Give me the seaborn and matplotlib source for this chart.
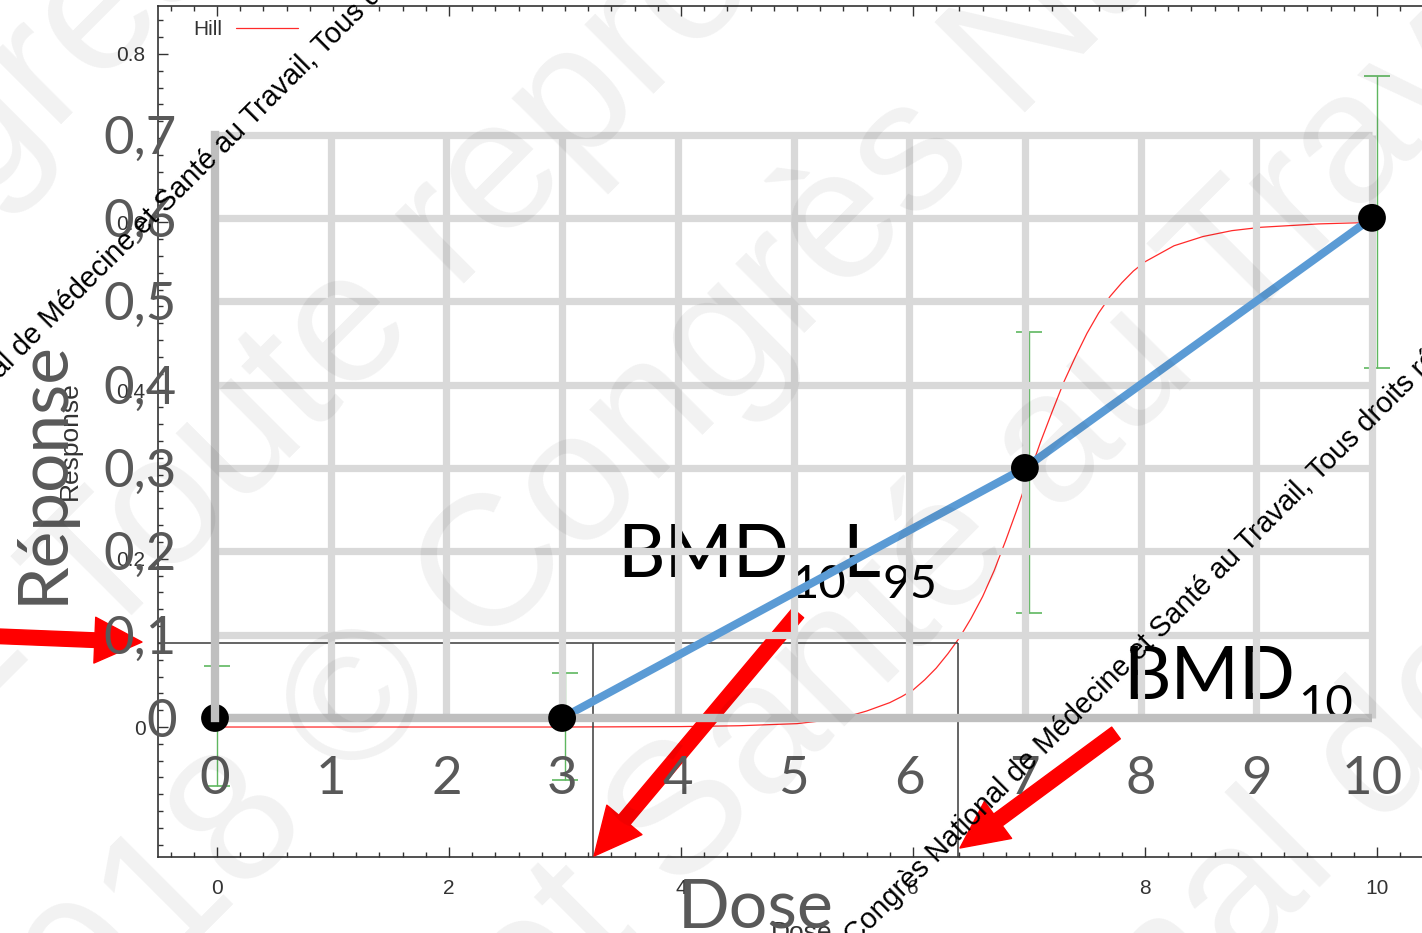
import matplotlib
matplotlib.use("Agg")
import matplotlib.pyplot as plt
import numpy as np
import seaborn as sns
from matplotlib.ticker import MultipleLocator

# fitted Hill curve of the underlying software plot
hill_dose = [0, 1, 2, 3, 4, 4.5, 5, 5.25, 5.5, 5.6, 5.7, 5.8, 5.9, 6, 6.1, 6.2, 6.3, 6.4,
             6.5, 6.6, 6.7, 6.8, 6.9, 7, 7.1, 7.2, 7.3, 7.4, 7.5, 7.6, 7.7, 7.8, 7.9, 8,
             8.25, 8.5, 8.75, 9, 9.5, 10]
hill_resp = [0, 0, 0, 0, 0.0005, 0.0015, 0.004, 0.008, 0.015, 0.019, 0.024, 0.029, 0.036,
             0.044, 0.056, 0.07, 0.087, 0.106, 0.129, 0.155, 0.186, 0.222, 0.26, 0.30,
             0.339, 0.375, 0.41, 0.44, 0.468, 0.492, 0.512, 0.528, 0.542, 0.553, 0.572,
             0.583, 0.59, 0.594, 0.598, 0.60]

# observed groups
obs_dose = [0, 3, 7, 10]
obs_resp = [0, 0, 0.3, 0.6]
err_low = [-0.070, -0.063, 0.135, 0.427]
err_high = [0.073, 0.064, 0.469, 0.774]

# benchmark dose results
bmr = 0.1
bmd = 6.39
bmdl = 3.24

bg_xticks = [0, 2, 4, 6, 8, 10]
bg_yticks = [0, 0.2, 0.4, 0.6, 0.8]
bg_ylabels = ["0", "0.2", "0.4", "0.6", "0.8"]

ov_xticks = [0, 1, 2, 3, 4, 5, 6, 7, 8, 9, 10]
ov_yticks = [0, 0.1, 0.2, 0.3, 0.4, 0.5, 0.6, 0.7]
ov_ylabels = ["0", "0,1", "0,2", "0,3", "0,4", "0,5", "0,6", "0,7"]

W, H = 1422, 933


def box(left, top, right, bottom):
    return [left / W, 1 - bottom / H, (right - left) / W, (bottom - top) / H]


def subscripted(ax, x, y, parts, size, sub_size, drop, clip=False):
    # parts alternate: normal, subscript, normal, subscript ...
    prev = ax.text(x, y, parts[0], fontsize=size, color="black", ha="left",
                   va="baseline", zorder=0.5, clip_on=clip)
    for i, part in enumerate(parts[1:]):
        is_sub = i % 2 == 0
        prev = ax.annotate(part, xy=(1, y), xycoords=(prev, "data"),
                           xytext=(2 if is_sub else -3, -drop if is_sub else 0),
                           textcoords="offset points", fontsize=sub_size if is_sub else size,
                           color="black", ha="left", va="baseline", zorder=0.5,
                           clip_on=clip, annotation_clip=False)
    return prev


sns.set_theme(style="white")
plt.rcParams["font.family"] = ["Lato", "DejaVu Sans"]

fig = plt.figure(figsize=(W / 100, H / 100), dpi=100)
fig.patch.set_facecolor("white")

# ---- underlying dose-response software plot ----
small = "Liberation Sans"
dark = "#333333"
ax_bg = fig.add_axes(box(158, 6, 1430, 857), zorder=1)
bg_xlim = (-0.509, 10.457)
bg_ylim = (-0.1545, 0.857)
sns.lineplot(x=hill_dose, y=hill_resp, color="#ff2a2a", lw=0.9, estimator=None,
             label="Hill", ax=ax_bg)
ax_bg.errorbar(obs_dose, obs_resp,
               yerr=[np.subtract(obs_resp, err_low), np.subtract(err_high, obs_resp)],
               fmt="none", ecolor="#5fb760", elinewidth=1.0, capsize=9.7, capthick=1.2)
ax_bg.hlines(bmr, bg_xlim[0], bmd, color="#3a3a3a", lw=1.1)
ax_bg.vlines([bmdl, bmd], bg_ylim[0], bmr, color="#3a3a3a", lw=1.1)
ax_bg.set_xlim(*bg_xlim)
ax_bg.set_ylim(*bg_ylim)
for s in ax_bg.spines.values():
    s.set_color(dark)
    s.set_linewidth(1.2)
ax_bg.set_xticks(bg_xticks, labels=[str(v) for v in bg_xticks])
ax_bg.set_yticks(bg_yticks, labels=bg_ylabels)
ax_bg.xaxis.set_minor_locator(MultipleLocator(0.2))
ax_bg.yaxis.set_minor_locator(MultipleLocator(0.02))
ax_bg.tick_params(which="both", direction="in", bottom=True, left=True, top=True,
                  right=False, colors=dark, width=1)
ax_bg.tick_params(which="major", length=7, labelsize=15)
ax_bg.tick_params(which="minor", length=3.5)
ax_bg.tick_params(axis="x", pad=16)
ax_bg.tick_params(axis="y", pad=9)
for lbl in ax_bg.get_xticklabels() + ax_bg.get_yticklabels():
    lbl.set_fontfamily(small)
ax_bg.set_xlabel("Dose", fontsize=19, family=small, color=dark)
ax_bg.set_ylabel("Response", fontsize=19, family=small, color=dark)
ax_bg.xaxis.set_label_coords(0.5063, -0.0752)
ax_bg.yaxis.set_label_coords(-0.0597, 0.4888)
leg = ax_bg.legend(loc="upper left", bbox_to_anchor=(0.0275, 0.9835), frameon=False,
                   markerfirst=False, handlelength=3.0, handletextpad=0.65, borderpad=0,
                   borderaxespad=0, prop={"family": small, "size": 15})
for t in leg.get_texts():
    t.set_color(dark)

# red arrows pointing at BMR, BMDL and BMD
arrow = dict(arrowstyle="simple,head_length=34,head_width=33,tail_width=10.5",
             mutation_scale=1, color="red", shrinkA=0, shrinkB=0)
ax_bg.annotate("", xy=(-0.647, bmr + 0.001), xytext=(-1.914, 0.108), arrowprops=arrow,
               annotation_clip=False, zorder=10)
ax_bg.annotate("", xy=(bmdl + 0.01, -0.1534), xytext=(5.009, 0.1355), arrowprops=arrow,
               annotation_clip=False, zorder=10)
ax_bg.annotate("", xy=(bmd + 0.015, -0.1438), xytext=(7.75, -0.0071), arrowprops=arrow,
               annotation_clip=False, zorder=10)

# ---- slide chart laid over it ----
grey = "#595959"
ax_ov = fig.add_axes(box(215, 134.5, 1372, 718), zorder=2)
ax_ov.patch.set_visible(False)
for s in ax_ov.spines.values():
    s.set_visible(False)
ax_ov.vlines(ov_xticks[1:], 0, 0.7, color="#d9d9d9", lw=5.2, clip_on=False, zorder=1)
ax_ov.hlines(ov_yticks[1:], 0, 10, color="#d9d9d9", lw=5.2, clip_on=False, zorder=1)
sns.lineplot(x=obs_dose, y=obs_resp, color="#5b9bd5", lw=5.8, estimator=None, ax=ax_ov,
             zorder=2)
ax_ov.hlines(0, 0, 10, color="#bfbfbf", lw=6, clip_on=False, zorder=2.5)
sns.scatterplot(x=obs_dose, y=obs_resp, s=400, color="black", edgecolor="none", ax=ax_ov,
                zorder=3, clip_on=False)
ax_ov.vlines(0, 0, 0.7, color="#bfbfbf", lw=6, clip_on=False, zorder=4,
             capstyle="projecting")
ax_ov.set_xlim(0, 10)
ax_ov.set_ylim(0, 0.7)
ax_ov.set_xticks(ov_xticks, labels=[str(v) for v in ov_xticks])
ax_ov.set_yticks(ov_yticks, labels=ov_ylabels)
ax_ov.tick_params(length=0, labelsize=38, labelcolor=grey, bottom=True, left=True)
ax_ov.tick_params(axis="x", pad=27)
ax_ov.tick_params(axis="y", pad=27.5)
ax_ov.set_xlabel("Dose", fontsize=49, color=grey)
ax_ov.set_ylabel("Réponse", fontsize=50, color=grey)
ax_ov.xaxis.set_label_coords(0.467, -0.2725)
ax_ov.yaxis.set_label_coords(-0.121, 0.421)
subscripted(ax_ov, 3.474, 0.169, ["BMD", "10", "L", "95"], 53, 34, 15)
subscripted(ax_ov, 7.85, 0.0228, ["BMD", "10"], 53, 34, 13.5, clip=True)

# ---- watermarks ----
ax_wm = fig.add_axes([0, 0, 1, 1], zorder=5)
ax_wm.set_xlim(0, W)
ax_wm.set_ylim(H, 0)
ax_wm.axis("off")
big_lines = [
    ("Congrès National", (-261, 446)),
    ("réservés - Toute reproduction interdite", (-519, 1266)),
    ("2018 © Congrès National", (21, 1116)),
    ("Médecine et Santé au Travail", (-75, 1647)),
    ("Congrès National de Médecine", (327, 1880)),
]
for txt, (x0, y0) in big_lines:
    ax_wm.text(x0, y0, txt, fontsize=133.6, family=small, color="black", alpha=0.055,
               rotation=45, rotation_mode="anchor", ha="left", va="baseline")
notice = "Congrès National de Médecine et Santé au Travail, Tous droits réservés"
for x0, y0 in [(-140, 520), (855, 946)]:
    ax_wm.text(x0, y0, notice, fontsize=20.6, family=small, color="black", rotation=45,
               rotation_mode="anchor", ha="left", va="baseline")

fig.savefig("out.png", dpi=100)
plt.close(fig)
